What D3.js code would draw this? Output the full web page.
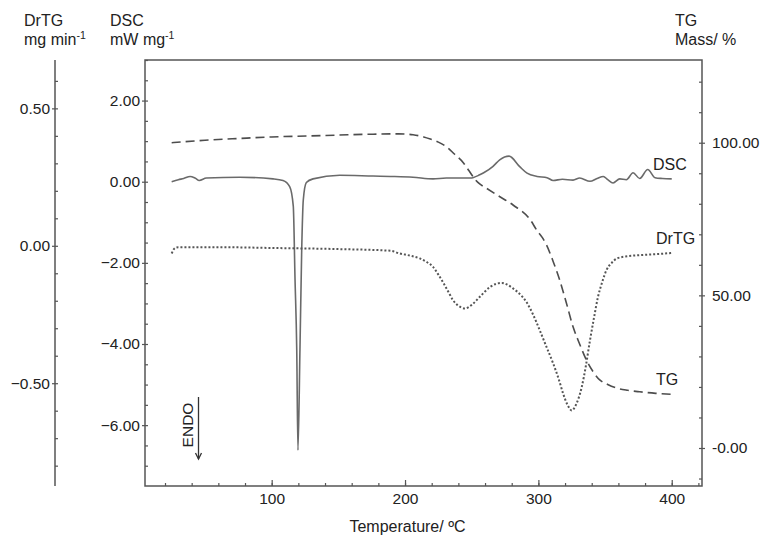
<!DOCTYPE html>
<html>
<head>
<meta charset="utf-8">
<script src="https://cdn.jsdelivr.net/npm/d3@7"></script>
<style>
  body { margin: 0; background: #fff; }
  svg { font-family: "Liberation Sans", Arial, sans-serif; }
</style>
</head>
<body>
<div id="chart"></div>
<script>
// DSC (mW/mg) vs temperature
var dscT = [25, 30, 34, 38.8, 42.5, 45.7, 51, 76, 101, 108.5, 113.5, 116.2, 117.5, 118.8, 119.7, 121.2, 122.5, 123.7, 126, 131,
    151, 176, 189, 206, 221, 231, 249, 256, 259, 266, 271, 278, 286, 291.5, 299, 306.5, 311, 318, 326, 331, 338.7,
    344, 348.7, 352, 356, 361, 366, 371, 376, 382, 387.5, 393, 400];
var dscVal = [0.00, 0.05, 0.08, 0.13, 0.09, 0.03, 0.09, 0.11, 0.07, 0.03, -0.12, -0.6, -2.4, -4.15, -6.62, -4.15, -1.7, -0.45, -0.02, 0.07,
    0.16, 0.14, 0.13, 0.11, 0.07, 0.09, 0.09, 0.17, 0.22, 0.38, 0.54, 0.63, 0.37, 0.21, 0.13, 0.10, 0.03, 0.06, 0.04, 0.09, 0.01,
    0.08, 0.13, 0.05, -0.03, 0.07, 0.05, 0.22, 0.08, 0.30, 0.10, 0.08, 0.07];

// TG (mass %)
var tgT = [25, 50, 76, 100, 126, 150, 176, 195, 206, 214, 219, 225, 231, 237, 244, 248, 252.5, 256, 261, 270, 281, 294,
    299, 303, 306, 311, 316, 321, 326, 331, 336, 341, 346, 352, 359, 367, 376, 388, 400];
var tgVal = [100.0, 100.8, 101.4, 101.9, 102.2, 102.5, 102.8, 102.9, 102.6, 101.9, 101.2, 100.2, 98.7, 96.3, 93.3, 90.8, 88.0, 86.5, 85.1, 82.6, 79.6, 74.7,
    71.2, 68.9, 66.6, 61.2, 55.0, 47.5, 39.7, 34.0, 28.8, 25.0, 22.3, 20.8, 19.6, 18.9, 18.4, 17.9, 17.6];

// DrTG (mg/min)
var drtgT = [25, 27.5, 30, 60, 100, 150, 189, 196, 204, 211, 216, 221, 225, 229, 233, 236, 240, 245, 250, 256, 264, 272.5,
    281, 287, 291, 296, 301, 306, 311, 315.5, 318.5, 322, 325, 328.5, 332.5, 335.5, 338.7, 341.7, 344.7, 348, 351, 355,
    359, 367, 376, 390, 400];
var drtgVal = [-0.028, -0.008, -0.005, -0.005, -0.008, -0.012, -0.018, -0.028, -0.036, -0.046, -0.058, -0.077, -0.105, -0.137, -0.172, -0.198, -0.218, -0.228, -0.215, -0.186, -0.149, -0.135,
    -0.155, -0.18, -0.204, -0.25, -0.307, -0.367, -0.427, -0.489, -0.537, -0.58, -0.599, -0.575, -0.514, -0.44, -0.344, -0.262, -0.186, -0.13, -0.089, -0.062,
    -0.046, -0.038, -0.034, -0.030, -0.026];

// tick labels
var xTicks = [100, 200, 300, 400];
var dscTicks = [-6, -4, -2, 0, 2];
var drtgTicks = [-0.5, 0, 0.5];
var tgTicks = [0, 50, 100];
var tgTickLabels = ["-0.00", "50.00", "100.00"];

var width = 773,
    height = 548,
    plotLeft = 145, plotRight = 702, plotTop = 60, plotBottom = 486,
    drtgAxisX = 55,
    axisColor = "#555",
    textColor = "#222";

var svg = d3.select("#chart").append("svg")
    .attr("width", width)
    .attr("height", height);

var x = d3.scaleLinear().domain([5, 422.7]).range([plotLeft, plotRight]);
var yDsc = d3.scaleLinear().domain([-7.5, 3.0]).range([plotBottom, plotTop]);
var yTg = d3.scaleLinear().domain([-12.45, 127.1]).range([plotBottom, plotTop]);
var yDrtg = d3.scaleLinear().domain([-0.874, 0.676]).range([plotBottom, plotTop]);

function styleAxis(g) {
    g.select(".domain").remove();
    g.selectAll("line").attr("stroke", axisColor).attr("stroke-width", 1.2);
    g.selectAll("text").attr("fill", textColor).style("font-size", "15.5px");
}

// frame
svg.append("rect")
    .attr("x", plotLeft).attr("y", plotTop)
    .attr("width", plotRight - plotLeft).attr("height", plotBottom - plotTop)
    .attr("fill", "none")
    .attr("stroke", axisColor)
    .attr("stroke-width", 1.5);

// x axis: minor ticks inside, major ticks + labels
svg.append("g")
    .attr("transform", "translate(0," + plotBottom + ")")
    .call(d3.axisTop(x).tickValues(d3.range(20, 421, 20)).tickSize(3).tickFormat(""))
    .call(styleAxis);
svg.append("g")
    .attr("transform", "translate(0," + plotBottom + ")")
    .call(d3.axisTop(x).tickValues(xTicks).tickSize(6).tickFormat(""))
    .call(styleAxis);
svg.append("g")
    .attr("transform", "translate(0," + plotBottom + ")")
    .call(d3.axisBottom(x).tickValues(xTicks).tickSize(0).tickPadding(7).tickFormat(d3.format("d")))
    .call(styleAxis);

// DSC axis (left of plot)
svg.append("g")
    .attr("transform", "translate(" + plotLeft + ",0)")
    .call(d3.axisRight(yDsc).tickValues(d3.range(-7, 3.01, 0.5)).tickSize(3).tickFormat(""))
    .call(styleAxis);
svg.append("g")
    .attr("transform", "translate(" + plotLeft + ",0)")
    .call(d3.axisLeft(yDsc).tickValues(dscTicks).tickSize(3).tickPadding(2).tickFormat(d3.format(".2f")))
    .call(styleAxis);

// DrTG axis (far left)
svg.append("line")
    .attr("x1", drtgAxisX).attr("x2", drtgAxisX)
    .attr("y1", plotTop).attr("y2", plotBottom)
    .attr("stroke", axisColor).attr("stroke-width", 1.5);
svg.append("g")
    .attr("transform", "translate(" + drtgAxisX + ",0)")
    .call(d3.axisRight(yDrtg).tickValues(d3.range(-8, 7).map(function(d) { return d / 10; })).tickSize(3).tickFormat(""))
    .call(styleAxis);
svg.append("g")
    .attr("transform", "translate(" + drtgAxisX + ",0)")
    .call(d3.axisLeft(yDrtg).tickValues(drtgTicks).tickSize(3).tickPadding(2).tickFormat(d3.format(".2f")))
    .call(styleAxis);

// TG axis (right)
svg.append("g")
    .attr("transform", "translate(" + plotRight + ",0)")
    .call(d3.axisLeft(yTg).tickValues(d3.range(-10, 121, 10)).tickSize(3).tickFormat(""))
    .call(styleAxis);
svg.append("g")
    .attr("transform", "translate(" + plotRight + ",0)")
    .call(d3.axisRight(yTg).tickValues(tgTicks).tickSize(3).tickPadding(7)
        .tickFormat(function(d, i) { return tgTickLabels[i]; }))
    .call(styleAxis);

// curves
function makeLine(ys) {
    return d3.line()
        .x(function(d) { return x(d[0]); })
        .y(function(d) { return ys(d[1]); })
        .curve(d3.curveMonotoneX);
}

var dscData = d3.zip(dscT, dscVal),
    tgData = d3.zip(tgT, tgVal),
    drtgData = d3.zip(drtgT, drtgVal);

svg.append("path")
    .datum(dscData)
    .attr("d", makeLine(yDsc))
    .attr("fill", "none")
    .attr("stroke", "#6a6a6a")
    .attr("stroke-width", 1.6);

svg.append("path")
    .datum(tgData)
    .attr("d", makeLine(yTg))
    .attr("fill", "none")
    .attr("stroke", "#4d4d4d")
    .attr("stroke-width", 1.6)
    .attr("stroke-dasharray", "9,5");

svg.append("path")
    .datum(drtgData)
    .attr("d", makeLine(yDrtg))
    .attr("fill", "none")
    .attr("stroke", "#555")
    .attr("stroke-width", 2)
    .attr("stroke-dasharray", "2,2");

// curve labels
var curveLabels = [
    { text: "DSC", x: 653, y: 170 },
    { text: "DrTG", x: 656, y: 244 },
    { text: "TG", x: 656, y: 385 }
];
svg.selectAll(".curve-label")
    .data(curveLabels)
    .enter().append("text")
    .attr("class", "curve-label")
    .attr("x", function(d) { return d.x; })
    .attr("y", function(d) { return d.y; })
    .attr("fill", textColor)
    .style("font-size", "16px")
    .text(function(d) { return d.text; });

// axis titles
function unitTitle(xPos, line1, unit, sup) {
    svg.append("text")
        .attr("x", xPos).attr("y", 26)
        .attr("fill", textColor)
        .style("font-size", "16px")
        .text(line1);
    var t2 = svg.append("text")
        .attr("x", xPos).attr("y", 45)
        .attr("fill", textColor)
        .style("font-size", "16px");
    t2.append("tspan").text(unit);
    if (sup) {
        t2.append("tspan").attr("dy", -6).style("font-size", "10.5px").text(sup);
    }
}
unitTitle(24, "DrTG", "mg min", "-1");
unitTitle(110, "DSC", "mW mg", "-1");
unitTitle(675, "TG", "Mass/ %", null);

svg.append("text")
    .attr("x", (plotLeft + plotRight) / 2 - 16)
    .attr("y", 532)
    .attr("text-anchor", "middle")
    .attr("fill", textColor)
    .style("font-size", "16px")
    .text("Temperature/ \u00baC");

// ENDO marker
svg.append("text")
    .attr("transform", "translate(193,425) rotate(-90)")
    .attr("text-anchor", "middle")
    .attr("fill", textColor)
    .style("font-size", "15.5px")
    .text("ENDO");
svg.append("line")
    .attr("x1", 198.5).attr("x2", 198.5)
    .attr("y1", 397).attr("y2", 459)
    .attr("stroke", "#333").attr("stroke-width", 1.3);
svg.append("path")
    .attr("d", "M195.5,453 L198.5,459 L201.5,453")
    .attr("fill", "none")
    .attr("stroke", "#333").attr("stroke-width", 1.3);
</script>
</body>
</html>
